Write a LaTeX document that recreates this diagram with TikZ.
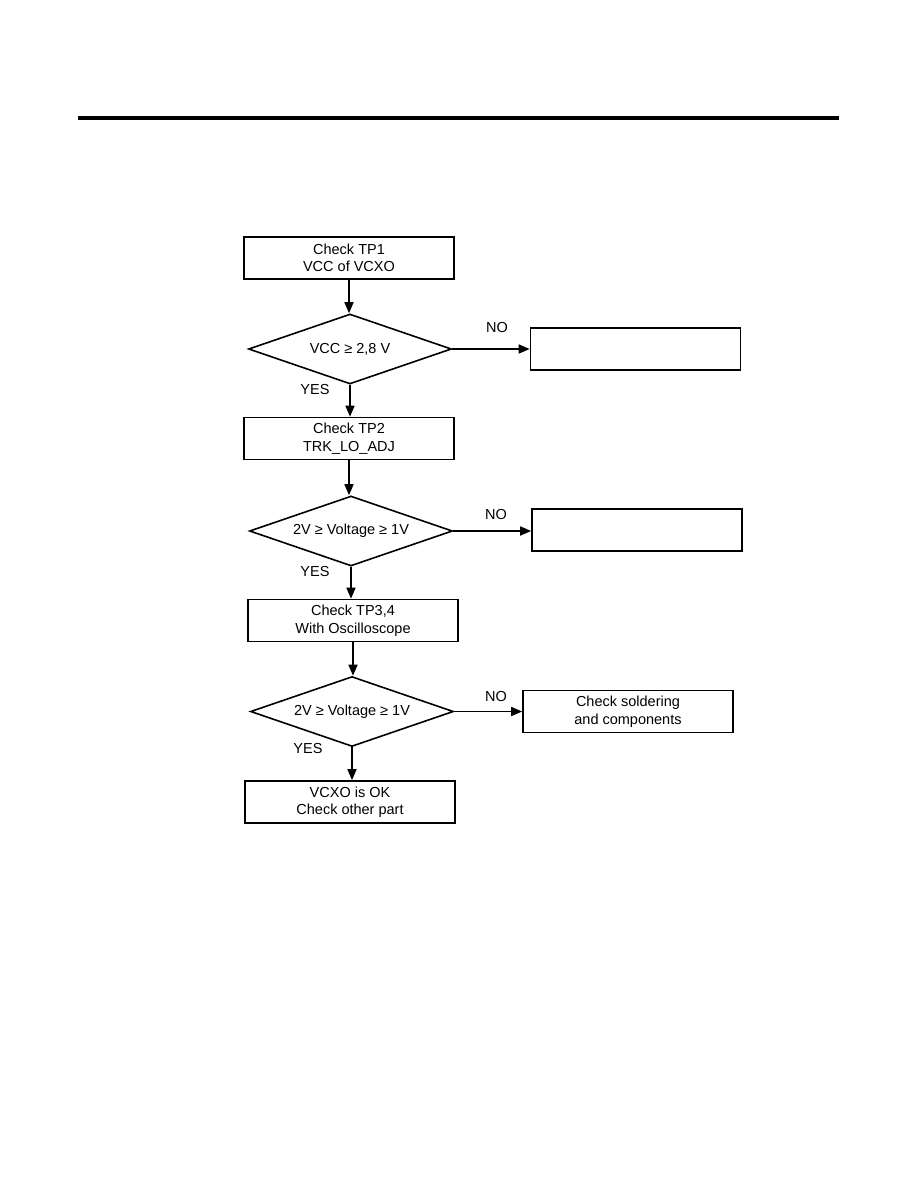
\documentclass[tikz,border=0pt]{standalone}
\usepackage{fontspec}
\setmainfont{Liberation Sans}
\usetikzlibrary{shapes.geometric,arrows.meta}
\begin{document}
\begin{tikzpicture}[x=1pt,y=-1pt,
  box/.style={draw,line width=1.6pt,minimum width=210pt,minimum height=42pt,inner sep=0pt,align=center,font=\fontsize{14.5}{17.5}\selectfont},
  dec/.style={draw,diamond,line width=1.6pt,minimum width=203pt,minimum height=70pt,inner sep=0pt,label={[font=\fontsize{14.5}{17.5}\selectfont]center:#1}},
  lbl/.style={font=\fontsize{14.5}{17.5}\selectfont,inner sep=0pt},
  arr/.style={line width=1.6pt,-{Triangle[length=11pt,width=9pt]}}]
\useasboundingbox (0,0) rectangle (918,1188);
\fill (78,116) rectangle (839,120);
% column
\node[box] (b1) at (349,258) {Check TP1\\VCC of VCXO};
\node[dec={VCC ≥ 2,8 V}] (d1) at (350,349) {};
\node[box] (n1) at (635.5,349) {};
\node[box] (b2) at (349,438.5) {Check TP2\\TRK\_LO\_ADJ};
\node[dec={2V ≥ Voltage ≥ 1V}] (d2) at (351,531) {};
\node[box] (n2) at (637,530) {};
\node[box] (b3) at (353,620.5) {Check TP3,4\\With Oscilloscope};
\node[dec={2V ≥ Voltage ≥ 1V}] (d3) at (352,711.5) {};
\node[box] (n3) at (628,711.5) {Check soldering\\and components};
\node[box] (b4) at (350,802) {VCXO is OK\\Check other part};
% labels
\node[lbl] (no1) at (497,328) {NO};
\node[lbl] (no2) at (496,515) {NO};
\node[lbl] (no3) at (496,697) {NO};
\node[lbl] (yes1) at (315,390) {YES};
\node[lbl] (yes2) at (315,572) {YES};
\node[lbl] (yes3) at (308,748) {YES};
% connectors
\draw[arr] (b1.south) -- (b1.south |- d1.north);
\draw[arr] (d1.south) -- (d1.south |- b2.north);
\draw[arr] (b2.south) -- (b2.south |- d2.north);
\draw[arr] (d2.south) -- (d2.south |- b3.north);
\draw[arr] (b3.south) -- (b3.south |- d3.north);
\draw[arr] (d3.south) -- (d3.south |- b4.north);
\draw[arr] (d1.east) -- (n1.west |- d1.east);
\draw[arr] (d2.east) -- (n2.west |- d2.east);
\draw[arr] (d3.east) -- (n3.west |- d3.east);
\end{tikzpicture}
\end{document}
